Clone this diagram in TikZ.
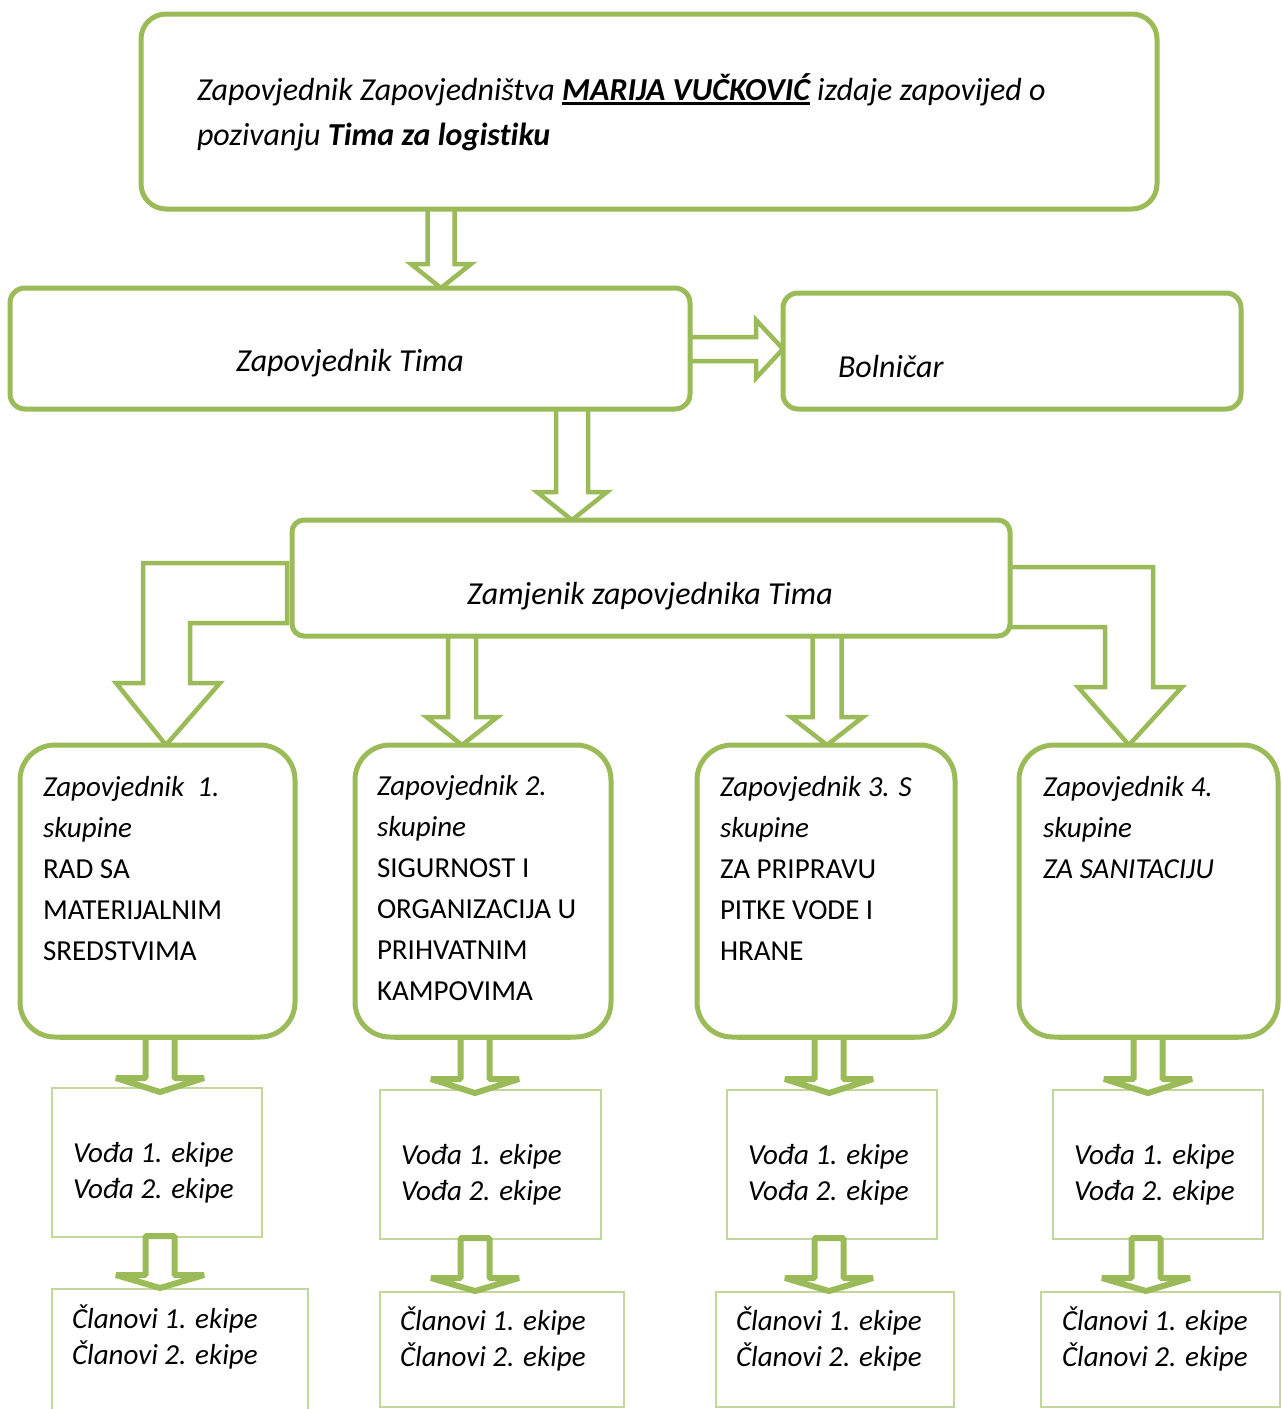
\documentclass[tikz,border=0pt]{standalone}
\usepackage{fontspec}
\setmainfont{Carlito}[Ligatures=NoCommon]
\usetikzlibrary{calc}
\pgfdeclarelayer{bg}
\pgfsetlayers{bg,main}
\definecolor{grn}{HTML}{9BBB59}
\definecolor{lgrn}{HTML}{C3D69B}
% open-topped hollow block arrow pointing down
\newcommand\blockdown[6]{%
  \draw[#1] let \p1=(#2), \p2=(#3) in
   (\x1-#4,\y1) -- (\x1-#4,\y2+#6) -- (\x1-#5,\y2+#6) -- (\x1,\y2) --
   (\x1+#5,\y2+#6) -- (\x1+#4,\y2+#6) -- (\x1+#4,\y1);}
% closed hollow block arrow pointing down
\newcommand\blockdownc[6]{%
  \draw[#1] let \p1=(#2), \p2=(#3) in
   (\x1-#4,\y1) -- (\x1-#4,\y2+#6) -- (\x1-#5,\y2+#6) -- (\x1,\y2) --
   (\x1+#5,\y2+#6) -- (\x1+#4,\y2+#6) -- (\x1+#4,\y1) -- cycle;}
\newcommand\blockright[6]{%
  \draw[#1] let \p1=(#2), \p2=(#3) in
   (\x1,\y1+#4) -- (\x2-#6,\y1+#4) -- (\x2-#6,\y1+#5) -- (\x2,\y1) --
   (\x2-#6,\y1-#5) -- (\x2-#6,\y1-#4) -- (\x1,\y1-#4);}
\newcommand\thickul[1]{\setbox0\hbox{#1}\rlap{\rule[-4.5pt]{\wd0}{2.8pt}}\box0}
\begin{document}
\begin{tikzpicture}[x=1pt,y=-1pt,
  bigbox/.style={draw=grn, line width=5pt, fill=white, rounded corners=#1,
    inner sep=0pt, outer sep=0pt, anchor=north west},
  bigbox/.default=15pt,
  smallbox/.style={draw=lgrn, line width=2pt, fill=white, inner sep=0pt,
    outer sep=0pt, anchor=north west},
  bigarrow/.style={draw=grn, line width=4.5pt, fill=white, line join=miter},
  smallarrow/.style={draw=grn, line width=6pt, fill=white, line join=bevel},
  txt/.style={inner sep=0pt, outer sep=0pt, align=left, anchor=north west,
    font=\fontsize{29}{41}\selectfont},
  one/.style={inner sep=0pt, outer sep=0pt, font=\fontsize{32}{38}\selectfont\itshape},
  vtxt/.style={inner sep=0pt, outer sep=0pt, align=left, anchor=north west,
    font=\fontsize{29}{36}\selectfont\itshape}]
\useasboundingbox (0,0) rectangle (1282,1409);
\begin{pgfonlayer}{bg}
\fill[white] (0,0) rectangle (1282,1409);
\end{pgfonlayer}

% ---------- boxes ----------
\node[bigbox=25pt, minimum width=1016pt, minimum height=195pt] (top) at (141,14) {};
\node[bigbox, minimum width=680pt, minimum height=121pt] (tima) at (10,288) {};
\node[bigbox, minimum width=458pt, minimum height=116pt] (bol) at (783,293) {};
\node[bigbox=12pt, minimum width=718pt, minimum height=116pt] (zam) at (292,520) {};
\node[bigbox=35pt, minimum width=275pt, minimum height=292pt] (g1) at (20,745) {};
\node[bigbox=35pt, minimum width=256pt, minimum height=292pt] (g2) at (355,745) {};
\node[bigbox=35pt, minimum width=258pt, minimum height=292pt] (g3) at (697,745) {};
\node[bigbox=35pt, minimum width=259pt, minimum height=292pt] (g4) at (1019,745) {};
\node[smallbox, minimum width=210pt, minimum height=149pt] (v1) at (52,1088) {};
\node[smallbox, minimum width=221pt, minimum height=149pt] (v2) at (380,1090) {};
\node[smallbox, minimum width=210pt, minimum height=149pt] (v3) at (727,1090) {};
\node[smallbox, minimum width=210pt, minimum height=149pt] (v4) at (1053,1090) {};
\node[smallbox, minimum width=256pt, minimum height=140pt] (c1) at (52,1289) {};
\node[smallbox, minimum width=244pt, minimum height=115pt] (c2) at (380,1292) {};
\node[smallbox, minimum width=238pt, minimum height=115pt] (c3) at (716,1292) {};
\node[smallbox, minimum width=239pt, minimum height=115pt] (c4) at (1041,1292) {};

% ---------- big arrows (under the boxes) ----------
\coordinate (a1) at (441,0);
\coordinate (a2) at (572,0);
\coordinate (a3) at (462,0);
\coordinate (a4) at (827,0);
\begin{pgfonlayer}{bg}
\blockdown{bigarrow}{a1 |- top.south}{a1 |- tima.north}{13.5pt}{30pt}{24pt}
\blockright{bigarrow}{tima.east |- 0,349}{bol.west |- 0,349}{12pt}{29pt}{27pt}
\blockdown{bigarrow}{a2 |- tima.south}{a2 |- zam.north}{16pt}{35pt}{28pt}
\blockdown{bigarrow}{a3 |- zam.south}{a3 |- g2.north}{14pt}{35.5pt}{28pt}
\blockdown{bigarrow}{a4 |- zam.south}{a4 |- g3.north}{14.5pt}{36pt}{28pt}
\draw[bigarrow] (287,563) -- (143,563) -- (143,683) -- (116,683) -- (166,0 |- g1.north)
  -- (220,683) -- (190,683) -- (190,623) -- (287,623) -- cycle;
\draw[bigarrow] (zam.east |- 0,567) -- (1153,567) -- (1153,687) -- (1182,687) -- (1129,0 |- g4.north)
  -- (1078,687) -- (1105,687) -- (1105,627) -- (zam.east |- 0,627);
\end{pgfonlayer}

% ---------- small arrows ----------
\coordinate (s1) at (160,0);
\coordinate (s2) at (475,0);
\coordinate (s3) at (829,0);
\coordinate (s4) at (1148,0);
\coordinate (s4b) at (1146,0);
\blockdown{smallarrow}{s1 |- g1.south}{$(s1 |- v1.north)+(0,4)$}{14.5pt}{44pt}{14pt}
\blockdown{smallarrow}{s2 |- g2.south}{$(s2 |- v2.north)+(0,3)$}{14.5pt}{44pt}{14pt}
\blockdown{smallarrow}{s3 |- g3.south}{$(s3 |- v3.north)+(0,3)$}{14.5pt}{44pt}{14pt}
\blockdown{smallarrow}{s4 |- g4.south}{$(s4 |- v4.north)+(0,3)$}{14.5pt}{44pt}{14pt}
\foreach \b in {g1,g2,g3,g4}{\draw[draw=grn, line width=5pt] ([xshift=40pt]\b.south west) -- ([xshift=-40pt]\b.south east);}
\blockdownc{smallarrow}{$(s1 |- v1.south)+(0,-1)$}{$(s1 |- c1.north)+(0,-1)$}{14.5pt}{44pt}{13pt}
\blockdownc{smallarrow}{$(s2 |- v2.south)+(0,-1)$}{$(s2 |- c2.north)+(0,-1)$}{14.5pt}{44pt}{13pt}
\blockdownc{smallarrow}{$(s3 |- v3.south)+(0,-1)$}{$(s3 |- c3.north)+(0,-1)$}{14.5pt}{44pt}{13pt}
\blockdownc{smallarrow}{$(s4b |- v4.south)+(0,-1)$}{$(s4b |- c4.north)+(0,-1)$}{14.5pt}{44pt}{13pt}

% ---------- texts ----------
\node[txt, font=\fontsize{32}{45}\selectfont\itshape] (ttop) at (197,68.5)
  {\strut Zapovjednik Zapovjedništva \textbf{\thickul{MARIJA VUČKOVIĆ}} izdaje zapovijed o\\
   \strut pozivanju \textbf{Tima za logistiku}};
\node[one, anchor=base] (ttima) at (350,371) {Zapovjednik Tima};
\node[one, anchor=base west] (tbol) at (838,377) {Bolničar};
\node[one, anchor=base] (tzam) at (650,604) {Zamjenik zapovjednika Tima};

\node[txt] (tg1) at (43,767.3)
  {\strut\textit{Zapovjednik\ \ 1.}\\ \strut\textit{skupine}\\ \strut RAD SA\\ \strut MATERIJALNIM\\ \strut SREDSTVIMA};
\node[txt] (tg2) at (377,766.3)
  {\strut\textit{Zapovjednik 2.}\\ \strut\textit{skupine}\\ \strut SIGURNOST I\\ \strut ORGANIZACIJA U\\ \strut PRIHVATNIM\\ \strut KAMPOVIMA};
\node[txt] (tg3) at (720,767.3)
  {\strut\textit{Zapovjednik 3. S}\\ \strut\textit{skupine}\\ \strut ZA PRIPRAVU\\ \strut PITKE VODE I\\ \strut HRANE};
\node[txt] (tg4) at (1043,767.3)
  {\strut\textit{Zapovjednik 4.}\\ \strut\textit{skupine}\\ \strut\textit{ZA SANITACIJU}};

\node[vtxt] (tv1) at (73,1136.8) {\strut Vođa 1. ekipe\\ \strut Vođa 2. ekipe};
\node[vtxt] (tv2) at (401,1138.8) {\strut Vođa 1. ekipe\\ \strut Vođa 2. ekipe};
\node[vtxt] (tv3) at (748,1138.8) {\strut Vođa 1. ekipe\\ \strut Vođa 2. ekipe};
\node[vtxt] (tv4) at (1074,1138.8) {\strut Vođa 1. ekipe\\ \strut Vođa 2. ekipe};
\node[vtxt] (tc1) at (72,1302.8) {\strut Članovi 1. ekipe\\ \strut Članovi 2. ekipe};
\node[vtxt] (tc2) at (400,1304.8) {\strut Članovi 1. ekipe\\ \strut Članovi 2. ekipe};
\node[vtxt] (tc3) at (736,1304.8) {\strut Članovi 1. ekipe\\ \strut Članovi 2. ekipe};
\node[vtxt] (tc4) at (1062,1304.8) {\strut Članovi 1. ekipe\\ \strut Članovi 2. ekipe};
\end{tikzpicture}
\end{document}
